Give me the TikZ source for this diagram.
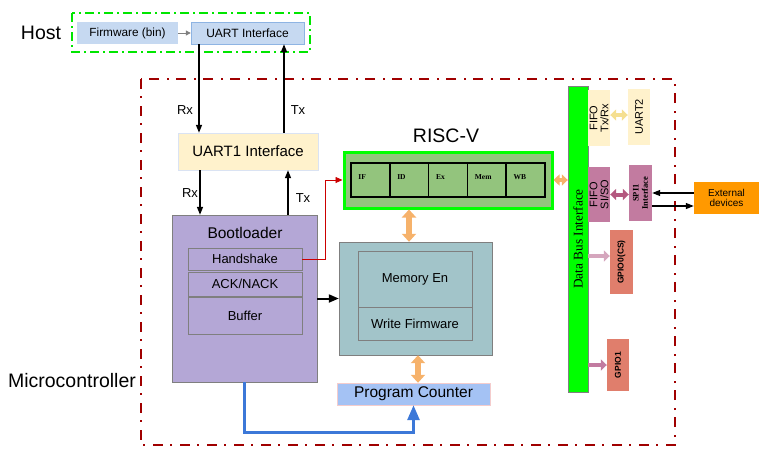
\documentclass[tikz,border=0pt]{standalone}
\usepackage{fontspec}
\setmainfont{Liberation Sans}
\newfontfamily\busfont{Liberation Serif}
\usetikzlibrary{arrows.meta, positioning, calc}
\definecolor{hostgreen}{HTML}{00E600}
\definecolor{mcred}{HTML}{A00000}
\definecolor{hostblue}{HTML}{C6D9F1}
\definecolor{hostedge}{HTML}{8EB4E3}
\definecolor{uartyellow}{HTML}{FFF2CC}
\definecolor{uartedge}{HTML}{DAE3F3}
\definecolor{bootpurple}{HTML}{B4A7D6}
\definecolor{boxgray}{HTML}{7F7F7F}
\definecolor{memteal}{HTML}{A2C4C9}
\definecolor{pcblue}{HTML}{A4C2F4}
\definecolor{pcedge}{HTML}{F4CCCC}
\definecolor{riscvgreen}{HTML}{93C47D}
\definecolor{brightgreen}{HTML}{00FF00}
\definecolor{linkorange}{HTML}{F6B26B}
\definecolor{fifoarrow}{HTML}{F5DF90}
\definecolor{spipink}{HTML}{C27BA0}
\definecolor{spiarrow}{HTML}{B4587F}
\definecolor{extorange}{HTML}{FF9900}
\definecolor{gpiored}{HTML}{E07E6C}
\definecolor{gpioarrow}{HTML}{D5A6BD}
\definecolor{pcline}{HTML}{3C78D8}
\definecolor{redwire}{HTML}{CC0000}
\newcommand{\fsz}[1]{\fontsize{#1}{#1}\selectfont}

\begin{document}
\begin{tikzpicture}[x=1pt, y=-1pt,
  lbl/.style={inner sep=0pt, font=\fsz{13}},
  title/.style={inner sep=0pt, font=\fsz{19.5}},
  hostbox/.style={rectangle, fill=hostblue, minimum height=22pt, inner sep=0pt},
  corebox/.style={rectangle, draw=boxgray, fill=bootpurple, inner sep=0pt},
  sidebox/.style={rectangle, inner sep=0pt, minimum width=22pt},
  stage/.style={rectangle, draw=black, line width=1.5pt, fill=riscvgreen,
    minimum width=38.8pt, minimum height=34pt},
  stagelbl/.style={inner sep=0pt, font=\busfont\bfseries\fsz{7.5}},
  hostframe/.style={hostgreen, line width=2.5pt, dash pattern=on 9pt off 4pt on 2pt off 4pt},
  mcframe/.style={mcred, line width=2.5pt, dash pattern=on 10pt off 7pt on 2pt off 8pt},
  wire/.style={line width=1.5pt, -{Triangle[length=8pt, width=6pt]}},
  fatarrow/.style={line width=5.5pt, {Triangle[length=8pt, width=14pt]}-{Triangle[length=8pt, width=14pt]}},
  thinfat/.style={line width=4pt, {Triangle[length=6pt, width=11pt]}-{Triangle[length=6pt, width=11pt]}},
  fatsingle/.style={line width=4pt, -{Triangle[length=6pt, width=11pt]}}
]
  \useasboundingbox (0,0) rectangle (768,451);

  % Host side
  \draw[hostframe] (72,13) rectangle (310,52);
  \node[title] (hostlbl) at (41,33) {Host};
  \node[hostbox, minimum width=101pt, font=\fsz{11.8}] (fw) at (127.5,33) {Firmware (bin)};
  \node[hostbox, draw=hostedge, minimum width=113pt, font=\fsz{12}] (uart) at (247.5,33) {UART Interface};
  \draw[gray, line width=1pt, -{Triangle[length=5pt, width=5pt]}] (fw) -- (uart);

  % Microcontroller
  \draw[mcframe] (141,79) rectangle (675,445);
  \node[title] (mclbl) at (72,381) {Microcontroller};

  \node[rectangle, fill=uartyellow, draw=uartedge, inner sep=0pt, minimum width=140pt,
    minimum height=37pt, font=\fsz{15}] (uart1) at (248,151.5) {UART1 Interface};

  \node[corebox, minimum width=145pt, minimum height=167pt] (boot) at (244.5,298.5) {};
  \node[inner sep=0pt, font=\fsz{15.5}] (boottitle) at (245,233) {Bootloader};
  \foreach \n/\y/\h/\t in {hs/259/22/Handshake, ack/284/24/{ACK/NACK}, buf/315.5/37/Buffer}
    \node[corebox, minimum width=114pt, minimum height=\h pt, font=\fsz{13}] (\n) at (245,\y) {\t};

  \node[corebox, fill=memteal, minimum width=153pt, minimum height=113pt] (mem) at (415.5,298.5) {};
  \node[corebox, fill=memteal, minimum width=114pt, minimum height=56pt, font=\fsz{13}] (memen) at (415,279) {Memory En};
  \node[corebox, fill=memteal, minimum width=114pt, minimum height=33pt, font=\fsz{13}] (wfw) at (415,323.5) {Write Firmware};

  \node[rectangle, fill=pcblue, draw=pcedge, inner sep=0pt, minimum width=153pt,
    minimum height=22pt, font=\fsz{15.5}] (pc) at (413.5,394) {Program Counter};

  % RISC-V core
  \node[title] (riscvlbl) at (446,136) {RISC-V};
  \node[rectangle, fill=riscvgreen, draw=brightgreen, line width=3pt, minimum width=208pt,
    minimum height=56pt] (riscv) at (448,180) {};
  \foreach \s [count=\i] in {IF,ID,Ex,Mem,WB} {
    \node[stage] (st\i) at ({351+38.8*(\i-0.5)},180) {};
    \node[stagelbl, anchor=west] (lbl\i) at ([shift={(8pt,3pt)}]st\i.west) {\s};
  }

  % peripherals
  \node[rectangle, fill=brightgreen, draw=gray, inner sep=0pt, minimum width=20pt,
    minimum height=306pt, font=\busfont\fsz{13.3}] (bus) at (578,239) {\rotatebox{90}{Data Bus Interface}};
  \node[sidebox, fill=uartyellow, minimum height=56pt, font=\fsz{11}] (fifo1) at (599,118)
    {\rotatebox{90}{\shortstack{FIFO\\Tx/Rx}}};
  \node[sidebox, fill=uartyellow, minimum height=56pt, font=\fsz{11}] (uart2) at (639,117)
    {\rotatebox{90}{UART2}};
  \node[sidebox, fill=spipink, minimum height=55pt, font=\fsz{11}] (fifo2) at (599,194.5)
    {\rotatebox{90}{\shortstack{FIFO\\SI/SO}}};
  \node[sidebox, fill=spipink, minimum width=23pt, minimum height=56pt,
    font=\busfont\bfseries\fsz{8.5}] (spi) at (640.5,193) {\rotatebox{90}{\shortstack{SPI1\\Interface}}};
  \node[rectangle, fill=extorange, inner sep=0pt, minimum width=65pt, minimum height=32pt,
    align=center, font=\fsz{10}] (ext) at (726.5,198) {External\\devices};
  \node[sidebox, fill=gpiored, minimum width=23pt, minimum height=64pt,
    font=\bfseries\fsz{8.5}] (gpio0) at (621.5,262) {\rotatebox{90}{GPIO0(CS)}};
  \node[sidebox, fill=gpiored, minimum height=52pt,
    font=\bfseries\fsz{8.5}] (gpio1) at (618,365) {\rotatebox{90}{GPIO1}};

  % serial lines
  \draw[wire] ([xshift=-48.5pt]uart.south) -- ([xshift=-48.5pt]uart.south |- uart1.north);
  \draw[wire] ([xshift=36.5pt]uart.south |- uart1.north) -- ([xshift=36.5pt]uart.south);
  \draw[wire] ([xshift=-48pt]uart1.south) -- ([xshift=-48pt]uart1.south |- boot.north);
  \draw[wire] ([xshift=40pt]uart1.south |- boot.north) -- ([xshift=40pt]uart1.south);
  \node[lbl] (rx1) at (185,110) {Rx};
  \node[lbl] (tx1) at (298,110) {Tx};
  \node[lbl] (rx2) at (190,193) {Rx};
  \node[lbl] (tx2) at (303,198) {Tx};

  \draw[redwire, line width=0.8pt, -{Triangle[length=7pt, width=6pt]}] (hs.east) -- ++(23,0) |- (riscv.west);
  \draw[wire, line width=2pt, -{Triangle[length=10pt, width=8pt]}] (boot) -- (mem);
  \draw[fatarrow, linkorange] ([xshift=-39pt]riscv.south) -- ([xshift=-39pt]riscv.south |- mem.north);
  \draw[fatarrow, linkorange] ([xshift=2.5pt]mem.south) -- ([xshift=2.5pt]mem.south |- pc.north);
  \draw[thinfat, linkorange] (riscv.east) -- (riscv.east -| bus.west);
  \draw[pcline, line width=2.8pt, -{Triangle[length=15pt, width=12pt]}] (boot.south) -- ++(0,50) -| (pc.south);

  \draw[thinfat, fifoarrow] ([yshift=3pt]fifo1.east) -- ([yshift=3pt]fifo1.east -| uart2.west);
  \draw[thinfat, spiarrow] (fifo2.east) -- (fifo2.east -| spi.west);
  \draw[wire, line width=1.2pt] ([yshift=5pt]ext.west) -- ([yshift=5pt]ext.west -| spi.east);
  \draw[wire, line width=1.2pt] ([yshift=-8pt]ext.west -| spi.east) -- ([yshift=-8pt]ext.west);
  \draw[fatsingle, gpioarrow] ([yshift=6pt]gpio0.west -| bus.east) -- ([yshift=6pt]gpio0.west);
  \draw[fatsingle, spipink] (bus.east |- gpio1.west) -- (gpio1.west);
\end{tikzpicture}
\end{document}
